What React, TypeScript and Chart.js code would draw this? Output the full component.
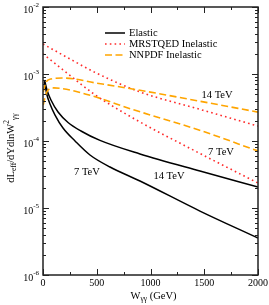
import React, { useEffect, useRef } from 'react';
import { Chart, registerables } from 'chart.js';
Chart.register(...registerables);

// ---- data ----
const elastic14W = [14, 37, 74, 140, 233, 353, 530, 902, 1460, 2000];
const elastic14V = [8.13e-4, 5.77e-4, 4.09e-4, 2.71e-4, 1.89e-4, 1.41e-4, 1.02e-4, 6.4e-5, 3.56e-5, 2.06e-5];
const elastic7W = [14, 37, 65, 112, 186, 298, 437, 623, 902, 1460, 2000];
const elastic7V = [7.6e-4, 4.86e-4, 3.57e-4, 2.44e-4, 1.56e-4, 1.0e-4, 6.18e-5, 4.09e-5, 2.53e-5, 9.0e-6, 3.56e-6];
const mrst14W = [0, 200, 493, 902, 1450, 2000];
const mrst14V = [2.8e-3, 1.86e-3, 1.04e-3, 5.4e-4, 3.0e-4, 1.67e-4];
const mrst7W = [0, 200, 484, 837, 1400, 2000];
const mrst7V = [2.0e-3, 1.11e-3, 4.9e-4, 2.2e-4, 7.3e-5, 2.36e-5];
const nnpdf14W = [2, 30, 70, 200, 500, 880, 1450, 2000];
const nnpdf14V = [5.4e-4, 7.6e-4, 8.4e-4, 8.7e-4, 7.3e-4, 5.8e-4, 3.95e-4, 2.7e-4];
const nnpdf7W = [2, 30, 100, 400, 850, 1450, 2000];
const nnpdf7V = [3.44e-4, 5.2e-4, 6.2e-4, 5.0e-4, 2.9e-4, 1.46e-4, 7.1e-5];

const xTicks = [0, 500, 1000, 1500, 2000];
const yExponents = [-6, -5, -4, -3, -2];
const legendLabels = ['Elastic', 'MRSTQED Inelastic', 'NNPDF Inelastic'];
const annotations = [
  { text: '14 TeV', w: 1619, v: 4.9e-4 },
  { text: '7 TeV', w: 1656, v: 6.9e-5 },
  { text: '14 TeV', w: 1172, v: 3.0e-5 },
  { text: '7 TeV', w: 409, v: 3.44e-5 },
];

const BLACK = '#000000';
const RED = '#ff2a2a';
const ORANGE = '#ffa500';
const FONT = '"Liberation Serif", "Times New Roman", serif';

const pts = (w: number[], v: number[]) => w.map((x, i) => ({ x, y: v[i] }));

const solid = { borderColor: BLACK, borderWidth: 1.5, borderDash: [] as number[] };
const dotted = { borderColor: RED, borderWidth: 1.6, borderDash: [1.6, 3.2] };
const dashed = { borderColor: ORANGE, borderWidth: 1.6, borderDash: [7, 3.5] };

type Seg = { t: string; size: number; dy: number };

function drawRich(ctx: CanvasRenderingContext2D, x: number, y: number, segs: Seg[]) {
  let cx = x;
  for (const s of segs) {
    ctx.font = `${s.size}px ${FONT}`;
    ctx.fillText(s.t, cx, y + s.dy);
    cx += ctx.measureText(s.t).width;
  }
  return cx - x;
}
function richWidth(ctx: CanvasRenderingContext2D, segs: Seg[]) {
  let w = 0;
  for (const s of segs) {
    ctx.font = `${s.size}px ${FONT}`;
    w += ctx.measureText(s.t).width;
  }
  return w;
}

const decorPlugin = {
  id: 'decor',
  afterDraw(chart: any) {
    const ctx: CanvasRenderingContext2D = chart.ctx;
    const { left, right, top, bottom } = chart.chartArea;
    const xs = chart.scales.x;
    const ys = chart.scales.y;
    ctx.save();
    // frame
    ctx.strokeStyle = '#222';
    ctx.lineWidth = 1.5;
    ctx.setLineDash([]);
    ctx.strokeRect(left, top, right - left, bottom - top);
    ctx.lineWidth = 1;
    // x ticks
    for (let v = 0; v <= 2000; v += 250) {
      const px = Math.round(xs.getPixelForValue(v)) + 0.5;
      const len = v % 500 === 0 ? 6 : 3;
      ctx.beginPath();
      ctx.moveTo(px, bottom); ctx.lineTo(px, bottom - len);
      ctx.moveTo(px, top); ctx.lineTo(px, top + len);
      ctx.stroke();
    }
    // y ticks
    for (let e = -6; e <= -2; e++) {
      for (let m = 1; m <= 9; m++) {
        if (e === -2 && m > 1) break;
        const val = m * Math.pow(10, e);
        const py = Math.round(ys.getPixelForValue(val)) + 0.5;
        const len = m === 1 ? 6 : 3;
        ctx.beginPath();
        ctx.moveTo(left, py); ctx.lineTo(left + len, py);
        ctx.moveTo(right, py); ctx.lineTo(right - len, py);
        ctx.stroke();
      }
    }
    ctx.fillStyle = '#000';
    ctx.textBaseline = 'middle';
    // x tick labels
    ctx.font = `10px ${FONT}`;
    ctx.textAlign = 'center';
    for (const t of xTicks) {
      ctx.fillText(String(t), xs.getPixelForValue(t), bottom + 8);
    }
    // y tick labels
    ctx.textAlign = 'left';
    for (const e of yExponents) {
      const segs = [
        { t: '10', size: 10, dy: 3 },
        { t: String(e), size: 7, dy: -2 },
      ];
      const w = richWidth(ctx, segs);
      drawRich(ctx, left - 4 - w, ys.getPixelForValue(Math.pow(10, e)), segs);
    }
    // x title
    const xt = [
      { t: 'W', size: 10.5, dy: 0 },
      { t: 'γγ', size: 7.5, dy: 3 },
      { t: ' (GeV)', size: 10.5, dy: 0 },
    ];
    const xw = richWidth(ctx, xt);
    drawRich(ctx, (left + right) / 2 - xw / 2 + 3, bottom + 21, xt);
    // y title
    const yt = [
      { t: 'dL', size: 10.5, dy: 0 },
      { t: 'eff', size: 7.5, dy: 3 },
      { t: '/dYdlnW', size: 10.5, dy: 0 },
      { t: '2', size: 7.5, dy: -4 },
      { t: 'γγ', size: 7.5, dy: 4 },
    ];
    const yw = richWidth(ctx, yt);
    ctx.save();
    ctx.translate(11, 148);
    ctx.rotate(-Math.PI / 2);
    drawRich(ctx, -yw / 2, 0, yt);
    ctx.restore();
    // legend
    const styles = [solid, dotted, dashed];
    legendLabels.forEach((lab, i) => {
      const y = 33 + i * 11;
      const s = styles[i];
      ctx.strokeStyle = s.borderColor;
      ctx.lineWidth = s.borderWidth;
      ctx.setLineDash(s.borderDash);
      ctx.beginPath();
      ctx.moveTo(105, y); ctx.lineTo(125, y);
      ctx.stroke();
      ctx.setLineDash([]);
      ctx.font = `10.5px ${FONT}`;
      ctx.textAlign = 'left';
      ctx.fillText(lab, 129, y + 0.5);
    });
    // annotations
    ctx.font = `10.5px ${FONT}`;
    ctx.textAlign = 'center';
    for (const a of annotations) {
      ctx.fillText(a.text, xs.getPixelForValue(a.w), ys.getPixelForValue(a.v));
    }
    ctx.restore();
  },
};

export default function App() {
  const ref = useRef<HTMLCanvasElement>(null);
  useEffect(() => {
    if (!ref.current) return;
    const common = { fill: false, pointRadius: 0, cubicInterpolationMode: 'monotone' as const };
    const chart = new Chart(ref.current, {
      type: 'line',
      data: {
        datasets: [
          { label: 'NNPDF 14', data: pts(nnpdf14W, nnpdf14V), ...common, ...dashed },
          { label: 'NNPDF 7', data: pts(nnpdf7W, nnpdf7V), ...common, ...dashed },
          { label: 'MRSTQED 14', data: pts(mrst14W, mrst14V), ...common, ...dotted },
          { label: 'MRSTQED 7', data: pts(mrst7W, mrst7V), ...common, ...dotted },
          { label: 'Elastic 14', data: pts(elastic14W, elastic14V), ...common, ...solid },
          { label: 'Elastic 7', data: pts(elastic7W, elastic7V), ...common, ...solid },
        ],
      },
      options: {
        animation: false,
        responsive: false,
        devicePixelRatio: 1,
        layout: { padding: { left: 43, right: 11, top: 7, bottom: 30 } },
        plugins: { legend: { display: false }, tooltip: { enabled: false } },
        scales: {
          x: { type: 'linear', min: 0, max: 2000, display: false },
          y: { type: 'logarithmic', min: 1e-6, max: 1e-2, display: false },
        },
      },
      plugins: [decorPlugin],
    });
    return () => chart.destroy();
  }, []);
  return (
    <div style={{ position: 'fixed', left: 0, top: 0, width: 269, height: 305, background: '#fff' }}>
      <canvas ref={ref} width={269} height={305} style={{ width: 269, height: 305 }} />
    </div>
  );
}
